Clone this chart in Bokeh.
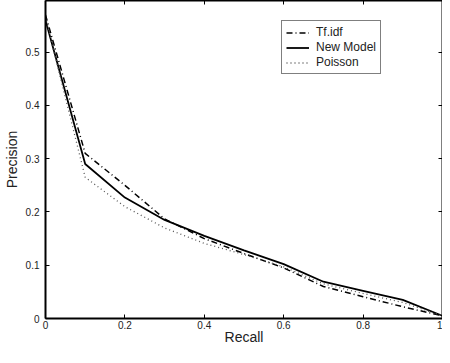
from bokeh.plotting import figure
from bokeh.models import LinearAxis, FixedTicker, NumeralTickFormatter, Legend, LegendItem, Range1d
from bokeh.embed import file_html
from bokeh.resources import INLINE

recall = [0.0, 0.1, 0.2, 0.3, 0.4, 0.5, 0.6, 0.7, 0.8, 0.9, 1.0]
tfidf = [0.57, 0.31, 0.25, 0.187, 0.15, 0.122, 0.095, 0.06, 0.041, 0.022, 0.005]
new_model = [0.56, 0.29, 0.227, 0.185, 0.155, 0.128, 0.102, 0.069, 0.052, 0.035, 0.005]
poisson = [0.565, 0.265, 0.21, 0.17, 0.141, 0.12, 0.097, 0.065, 0.047, 0.03, 0.005]

x_ticks = [0, 0.2, 0.4, 0.6, 0.8, 1.0]
y_ticks = [0, 0.1, 0.2, 0.3, 0.4, 0.5]

FONT = "Liberation Sans"

p = figure(width=442, height=347, x_range=Range1d(0, 1), y_range=Range1d(0, 0.597),
           output_backend="svg", toolbar_location=None,
           min_border_left=0, min_border_right=0, min_border_top=0, min_border_bottom=0,
           x_axis_label="Recall", y_axis_label="Precision")
p.xgrid.visible = False
p.ygrid.visible = False
p.outline_line_color = None

def style_axis(ax, ticks, labels=True):
    ax.ticker = FixedTicker(ticks=ticks)
    ax.formatter = NumeralTickFormatter(format="0.[0]")
    ax.axis_line_width = 2
    ax.axis_line_color = "black"
    ax.major_tick_in = 4
    ax.major_tick_out = 0
    ax.major_tick_line_width = 1
    ax.minor_tick_line_color = None
    ax.major_label_text_font = FONT
    ax.major_label_text_color = "#222222"
    ax.axis_label_text_font = FONT
    ax.axis_label_text_font_style = "normal"
    ax.axis_label_text_font_size = "14px"
    ax.axis_label_text_color = "#222222"
    if labels:
        ax.major_label_text_font_size = "10px"
    else:
        ax.major_label_text_font_size = "1px"
        ax.major_label_text_color = None
        ax.major_label_standoff = 0

style_axis(p.xaxis[0], x_ticks)
p.xaxis[0].major_label_standoff = 2
p.xaxis[0].axis_label_standoff = -3
style_axis(p.yaxis[0], y_ticks)
p.yaxis[0].major_label_standoff = 6
p.yaxis[0].axis_label_standoff = 3

top = LinearAxis()
style_axis(top, x_ticks, labels=False)
p.add_layout(top, "above")
right = LinearAxis()
style_axis(right, y_ticks, labels=False)
p.add_layout(right, "right")

r1 = p.line(recall, tfidf, line_color="black", line_width=1.5, line_dash="6 3 1 3")
r2 = p.line(recall, new_model, line_color="black", line_width=1.8)
r3 = p.line(recall, poisson, line_color="#555555", line_width=1.3, line_dash="1 3")

legend = Legend(items=[LegendItem(label="Tf.idf", renderers=[r1]),
                       LegendItem(label="New Model", renderers=[r2]),
                       LegendItem(label="Poisson", renderers=[r3])],
                location=(236, 244))
legend.label_text_font = FONT
legend.label_text_font_size = "12px"
legend.label_text_color = "#222222"
legend.label_height = 13
legend.glyph_height = 13
legend.glyph_width = 23
legend.label_standoff = 7
legend.spacing = 1
legend.padding = 4
legend.margin = 0
legend.border_line_color = "black"
legend.border_line_width = 1
legend.background_fill_color = "white"
legend.background_fill_alpha = 1
p.add_layout(legend, "center")

open("out.html", "w").write(file_html(p, INLINE))
